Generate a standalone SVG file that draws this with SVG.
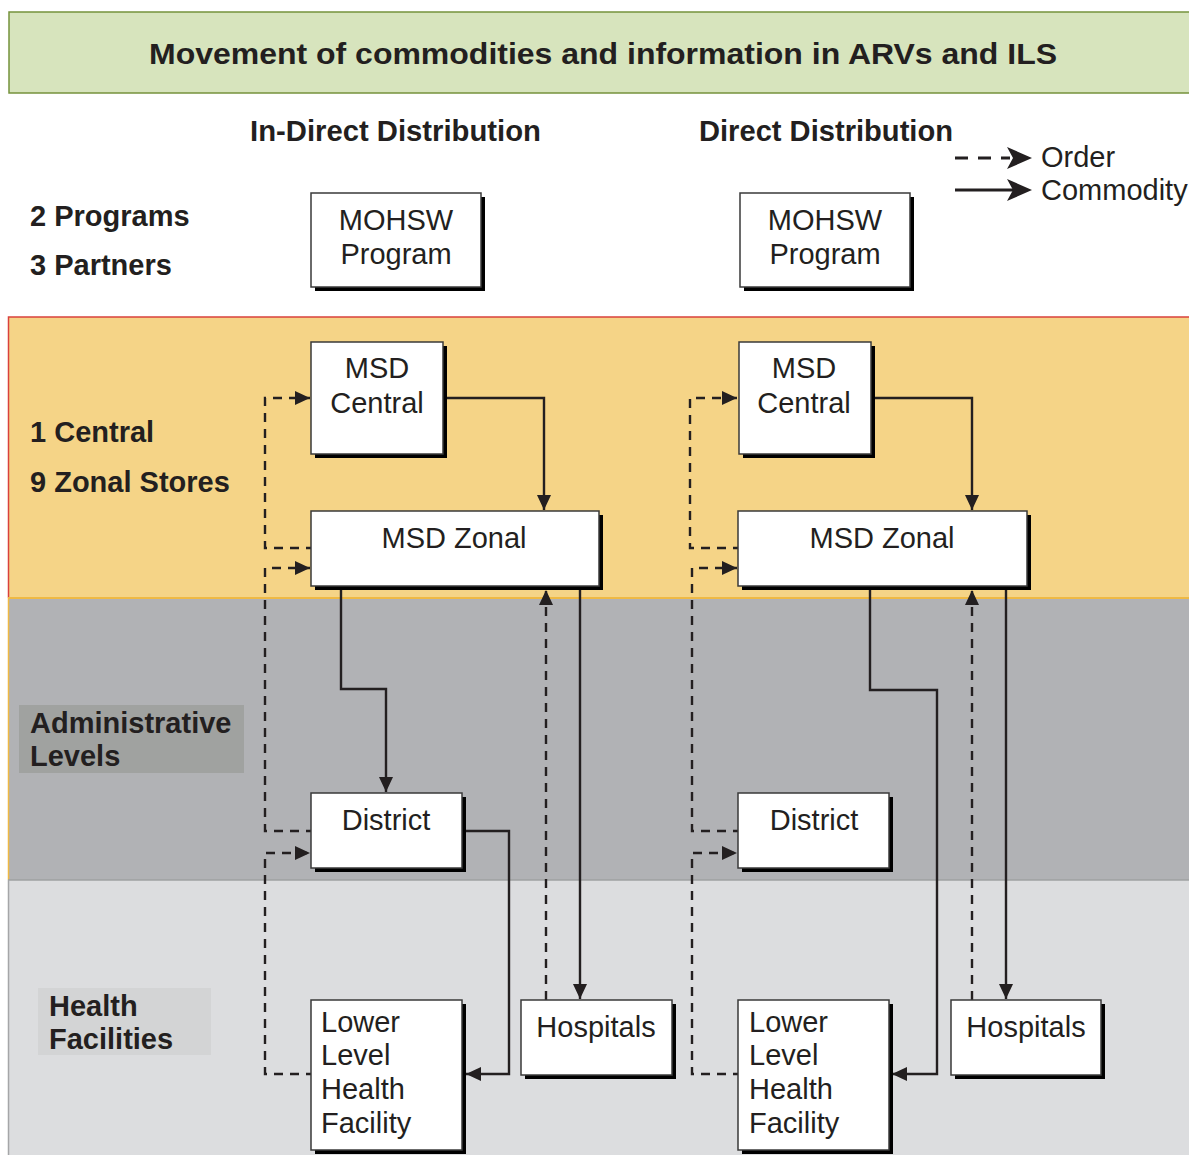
<svg xmlns="http://www.w3.org/2000/svg" width="1189" height="1155" viewBox="0 0 1189 1155">
  <defs>
    <style>
      .t { font-family: "Liberation Sans", Arial, sans-serif; fill: #231f20; }
      .n { font-size: 29px; }
      .b { font-size: 29px; font-weight: bold; }
      .box { fill: #ffffff; stroke: #3a3a3a; stroke-width: 1.5; }
      .sh { fill: #000000; }
      .c { fill: none; stroke: #231f20; stroke-width: 2.4; }
      .o { fill: none; stroke: #231f20; stroke-width: 2.4; stroke-dasharray: 9 7; }
    </style>
    <marker id="ah" viewBox="0 0 15 14" markerWidth="15" markerHeight="14" refX="15" refY="7" orient="auto" markerUnits="userSpaceOnUse">
      <path d="M0,0 L15,7 L0,14 z" fill="#231f20"/>
    </marker>
  </defs>

  <rect width="1189" height="1155" fill="#ffffff"/>

  <!-- title -->
  <g id="title">
    <rect x="9" y="12" width="1185" height="81" fill="#d7e4bd" stroke="#76923c" stroke-width="1.5"/>
    <text class="t" x="603" y="64" text-anchor="middle" font-size="30" font-weight="bold" textLength="908" lengthAdjust="spacingAndGlyphs">Movement of commodities and information in ARVs and ILS</text>
  </g>

  <!-- bands -->
  <g id="bands">
    <rect x="8" y="317" width="1190" height="281" fill="#f5d487"/>
    <rect x="8" y="598" width="1190" height="282" fill="#b1b2b5"/>
    <rect x="8" y="880" width="1190" height="280" fill="#dcdddf"/>
    <path d="M8.5,598 V317 H1189" fill="none" stroke="#d9413c" stroke-width="1.5"/>
    <path d="M8,598 H1189" fill="none" stroke="#efb944" stroke-width="2"/>
    <path d="M8.5,598 V880" fill="none" stroke="#efb944" stroke-width="1.5"/>
    <path d="M8,880 H1189" fill="none" stroke="#9fa0a2" stroke-width="1.5"/>
    <path d="M8.5,880 V1155" fill="none" stroke="#a5a6a8" stroke-width="1.5"/>
    <rect x="19" y="705" width="225" height="68" fill="#a0a2a0"/>
    <rect x="38" y="988" width="173" height="67" fill="#d3d4d5"/>
  </g>

  <!-- headings and level labels -->
  <g id="labels">
    <text class="t" x="250" y="141" font-size="29" font-weight="bold" textLength="291" lengthAdjust="spacingAndGlyphs">In-Direct Distribution</text>
    <text class="t" x="699" y="141" font-size="29" font-weight="bold" textLength="254" lengthAdjust="spacingAndGlyphs">Direct Distribution</text>
    <text class="t b" x="30" y="226">2 Programs</text>
    <text class="t b" x="30" y="275">3 Partners</text>
    <text class="t b" x="30" y="442">1 Central</text>
    <text class="t b" x="30" y="492">9 Zonal Stores</text>
    <text class="t b" x="30" y="733">Administrative</text>
    <text class="t b" x="30" y="766">Levels</text>
    <text class="t b" x="49" y="1016">Health</text>
    <text class="t b" x="49" y="1049">Facilities</text>
  </g>

  <!-- legend -->
  <g id="legend">
    <path d="M955,158 H1010" fill="none" stroke="#231f20" stroke-width="3" stroke-dasharray="13 10"/>
    <polygon points="1032,158 1007,147 1013,158 1007,169" fill="#231f20"/>
    <path d="M955,190 H1015" fill="none" stroke="#231f20" stroke-width="3"/>
    <polygon points="1032,190 1007,179 1013,190 1007,201" fill="#231f20"/>
    <text class="t n" x="1041" y="167">Order</text>
    <text class="t n" x="1041" y="200">Commodity</text>
  </g>

  <!-- connectors -->
  <g id="connectors">
    <!-- In-direct: orders -->
    <path class="o" d="M315,548 H265 V398 H310" marker-end="url(#ah)"/>
    <path class="o" d="M315,831 H265 V568 H310" marker-end="url(#ah)"/>
    <path class="o" d="M315,1074 H265 V853 H310" marker-end="url(#ah)"/>
    <path class="o" d="M546,1000 V590" marker-end="url(#ah)"/>
    <!-- In-direct: commodities -->
    <path class="c" d="M443,398 H544 V510" marker-end="url(#ah)"/>
    <path class="c" d="M341,587 V689 H386 V792" marker-end="url(#ah)"/>
    <path class="c" d="M580,587 V999" marker-end="url(#ah)"/>
    <path class="c" d="M462,831 H509 V1074 H466" marker-end="url(#ah)"/>
    <!-- Direct: orders -->
    <path class="o" d="M742,548 H690 V398 H737" marker-end="url(#ah)"/>
    <path class="o" d="M742,831 H692 V568 H737" marker-end="url(#ah)"/>
    <path class="o" d="M742,1074 H692 V853 H737" marker-end="url(#ah)"/>
    <path class="o" d="M972,1000 V590" marker-end="url(#ah)"/>
    <!-- Direct: commodities -->
    <path class="c" d="M871,398 H972 V510" marker-end="url(#ah)"/>
    <path class="c" d="M870,587 V690 H937 V1074 H892" marker-end="url(#ah)"/>
    <path class="c" d="M1006,587 V999" marker-end="url(#ah)"/>
  </g>

  <!-- nodes: In-direct -->
  <g id="mohsw-indirect">
    <rect class="sh" x="315" y="197" width="170" height="94"/>
    <rect class="box" x="311" y="193" width="170" height="94"/>
    <text class="t n" x="396" y="230" text-anchor="middle">MOHSW</text>
    <text class="t n" x="396" y="264" text-anchor="middle">Program</text>
  </g>
  <g id="msd-central-indirect">
    <rect class="sh" x="315" y="346" width="132" height="112"/>
    <rect class="box" x="311" y="342" width="132" height="112"/>
    <text class="t n" x="377" y="378" text-anchor="middle">MSD</text>
    <text class="t n" x="377" y="413" text-anchor="middle">Central</text>
  </g>
  <g id="msd-zonal-indirect">
    <rect class="sh" x="315" y="515" width="288" height="75"/>
    <rect class="box" x="311" y="511" width="288" height="75"/>
    <text class="t n" x="454" y="548" text-anchor="middle">MSD Zonal</text>
  </g>
  <g id="district-indirect">
    <rect class="sh" x="315" y="797" width="151" height="75"/>
    <rect class="box" x="311" y="793" width="151" height="75"/>
    <text class="t n" x="386" y="830" text-anchor="middle">District</text>
  </g>
  <g id="llhf-indirect">
    <rect class="sh" x="315" y="1004" width="151" height="150"/>
    <rect class="box" x="311" y="1000" width="151" height="150"/>
    <text class="t n" x="321" y="1032">Lower</text>
    <text class="t n" x="321" y="1065">Level</text>
    <text class="t n" x="321" y="1099">Health</text>
    <text class="t n" x="321" y="1133">Facility</text>
  </g>
  <g id="hospitals-indirect">
    <rect class="sh" x="525" y="1004" width="151" height="75"/>
    <rect class="box" x="521" y="1000" width="151" height="75"/>
    <text class="t n" x="596" y="1037" text-anchor="middle">Hospitals</text>
  </g>

  <!-- nodes: Direct -->
  <g id="mohsw-direct">
    <rect class="sh" x="744" y="197" width="170" height="94"/>
    <rect class="box" x="740" y="193" width="170" height="94"/>
    <text class="t n" x="825" y="230" text-anchor="middle">MOHSW</text>
    <text class="t n" x="825" y="264" text-anchor="middle">Program</text>
  </g>
  <g id="msd-central-direct">
    <rect class="sh" x="743" y="346" width="132" height="112"/>
    <rect class="box" x="739" y="342" width="132" height="112"/>
    <text class="t n" x="804" y="378" text-anchor="middle">MSD</text>
    <text class="t n" x="804" y="413" text-anchor="middle">Central</text>
  </g>
  <g id="msd-zonal-direct">
    <rect class="sh" x="742" y="515" width="289" height="75"/>
    <rect class="box" x="738" y="511" width="289" height="75"/>
    <text class="t n" x="882" y="548" text-anchor="middle">MSD Zonal</text>
  </g>
  <g id="district-direct">
    <rect class="sh" x="742" y="797" width="151" height="75"/>
    <rect class="box" x="738" y="793" width="151" height="75"/>
    <text class="t n" x="814" y="830" text-anchor="middle">District</text>
  </g>
  <g id="llhf-direct">
    <rect class="sh" x="742" y="1004" width="151" height="150"/>
    <rect class="box" x="738" y="1000" width="151" height="150"/>
    <text class="t n" x="749" y="1032">Lower</text>
    <text class="t n" x="749" y="1065">Level</text>
    <text class="t n" x="749" y="1099">Health</text>
    <text class="t n" x="749" y="1133">Facility</text>
  </g>
  <g id="hospitals-direct">
    <rect class="sh" x="955" y="1004" width="150" height="75"/>
    <rect class="box" x="951" y="1000" width="150" height="75"/>
    <text class="t n" x="1026" y="1037" text-anchor="middle">Hospitals</text>
  </g>
</svg>
